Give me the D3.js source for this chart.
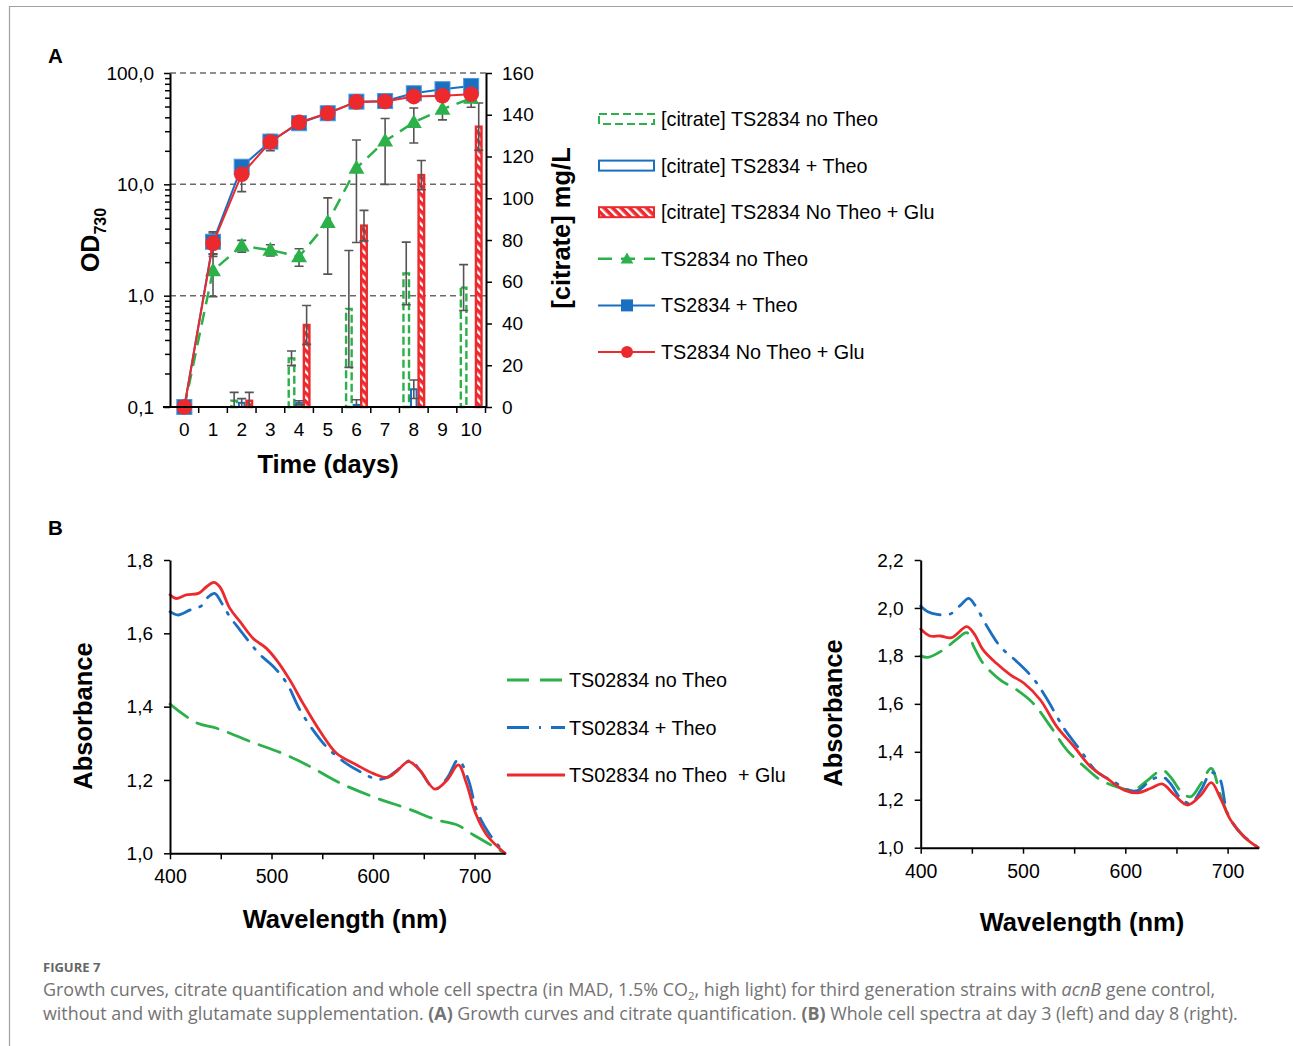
<!DOCTYPE html>
<html>
<head>
<meta charset="utf-8">
<script src="https://cdn.jsdelivr.net/npm/d3@7"></script>
<style>
  body { margin: 0; background: #fff; }
  svg { display: block; }
  text { font-family: "Liberation Sans", Arial, sans-serif; fill: #000; }
  .cap { font-family: "Open Sans", sans-serif; fill: #737373; }
</style>
</head>
<body>
<svg id="fig" width="1293" height="1046"></svg>
<script>
// ---- panel A data: growth (OD730, log) ----
const days = [0, 1, 2, 3, 4, 5, 6, 7, 8, 9, 10]
const odNoTheo = [0.1, 1.68, 2.8, 2.57, 2.24, 4.56, 14, 24.5, 36, 47.3, 59.3]
const odNoTheoErr = [0, 0.7, 0.34, 0.3, 0.4, 3, 11, 14.5, 12.5, 9.4, 10]
const odTheo = [0.1, 3.05, 14.4, 24.2, 35.4, 43.5, 55.3, 56, 65.8, 71.5, 76.5]
const odTheoErr = [0, 0.7, 1, 1, 1.5, 1.5, 2, 2, 2, 2, 2]
const odGlu = [0.1, 2.95, 12.3, 24, 36, 43.5, 55, 55.5, 61.4, 62.5, 64.5]
const odGluErr = [0, 0.7, 3.7, 4, 1.5, 1.5, 2, 2, 2, 2, 2]

// ---- panel A data: citrate (mg/L, bars) ----
const citDays = [2, 4, 6, 8, 10]
const citNoTheo = [3, 23.3, 47, 64, 57.2]
const citNoTheoErr = [4, 3.5, 28, 15, 11]
const citTheo = [2, 2, 1, 8.5, 0]
const citTheoErr = [2, 1, 2.5, 4.4, 0]
const citGlu = [3, 39.3, 86.9, 111.1, 134.3]
const citGluErr = [4, 9.3, 7.3, 7, 11.3]

const odTicks = [0.1, 1, 10, 100]
const citTicks = [0, 20, 40, 60, 80, 100, 120, 140, 160]

// ---- panel B data: whole cell spectra ----
// day 3 (left)
const d3NoTheo = [[400,1.407],[426,1.356],[446,1.341],[479,1.305],[512,1.271],[535,1.241],[568,1.191],[604,1.15],[633,1.123],[663,1.091],[683,1.077],[699,1.05],[719,1.018],[730,1.0]]
const d3Theo = [[400,1.659],[408,1.65],[420,1.664],[431,1.675],[438,1.7],[444,1.709],[451,1.682],[459,1.645],[469,1.609],[479,1.573],[489,1.541],[502,1.509],[515,1.464],[528,1.391],[541,1.336],[554,1.291],[571,1.25],[587,1.223],[604,1.202],[614,1.207],[623,1.225],[637,1.253],[646,1.227],[661,1.175],[673,1.205],[684,1.255],[694,1.2],[702,1.118],[714,1.055],[730,1.0]]
const d3Glu = [[400,1.705],[406,1.695],[416,1.705],[428,1.709],[436,1.727],[443,1.739],[449,1.727],[459,1.668],[469,1.632],[482,1.586],[495,1.559],[505,1.527],[518,1.473],[531,1.409],[548,1.332],[564,1.273],[584,1.241],[600,1.218],[614,1.207],[623,1.223],[635,1.25],[646,1.227],[661,1.175],[673,1.2],[684,1.241],[692,1.191],[701,1.109],[712,1.05],[730,1.0]]
// day 8 (right)
const d8NoTheo = [[400,1.8],[407,1.794],[422,1.825],[435,1.869],[445,1.897],[452,1.838],[461,1.769],[478,1.699],[494,1.658],[510,1.602],[527,1.505],[543,1.407],[560,1.338],[576,1.282],[592,1.254],[608,1.241],[622,1.282],[636,1.324],[644,1.296],[656,1.227],[664,1.213],[674,1.268],[684,1.331],[693,1.22],[703,1.115],[716,1.046],[730,1.0]]
const d8Theo = [[400,2.008],[407,1.984],[416,1.973],[429,1.975],[439,2.012],[447,2.04],[453,2.012],[465,1.922],[478,1.838],[494,1.776],[510,1.706],[523,1.623],[540,1.498],[556,1.407],[572,1.317],[589,1.275],[602,1.241],[612,1.238],[625,1.282],[636,1.296],[644,1.268],[654,1.206],[664,1.185],[674,1.241],[684,1.313],[692,1.289],[700,1.143],[713,1.06],[730,1.0]]
const d8Glu = [[400,1.912],[409,1.883],[419,1.883],[430,1.876],[445,1.922],[452,1.894],[461,1.825],[474,1.769],[488,1.72],[501,1.686],[517,1.616],[533,1.505],[550,1.421],[566,1.338],[582,1.289],[599,1.24],[612,1.229],[625,1.248],[636,1.266],[648,1.22],[661,1.178],[674,1.22],[684,1.271],[693,1.206],[703,1.115],[716,1.046],[730,1.0]]

const wlTicks = [400, 450, 500, 550, 600, 650, 700]
const wlLabels = [400, 500, 600, 700]
const absTicksL = [1.0, 1.2, 1.4, 1.6, 1.8]
const absTicksR = [1.0, 1.2, 1.4, 1.6, 1.8, 2.0, 2.2]

const GREEN = '#2bb04a', BLUE = '#1b6fc0', RED = '#ec2a2e', GREY = '#555'
const comma = d => d3.format('.1f')(d).replace('.', ',')

const svg = d3.select('#fig')

// frame
svg.append('path').attr('d', 'M9.5,1046V6.5H1293').attr('fill', 'none').attr('stroke', '#a0a0a0').attr('stroke-width', 1.2)

const defs = svg.append('defs')
const hatch = defs.append('pattern')
    .attr('id', 'hatch')
    .attr('patternUnits', 'userSpaceOnUse')
    .attr('width', 6).attr('height', 6)
    .attr('patternTransform', 'rotate(-45)')
hatch.append('rect').attr('width', 6).attr('height', 6).attr('fill', RED)
hatch.append('rect').attr('x', 0).attr('width', 2.4).attr('height', 6).attr('fill', '#fff')

// ================= PANEL A =================
const x = d3.scaleBand().domain(days).range([170, 485.5])
const yL = d3.scaleLog().domain([0.1, 100]).range([407, 73])
const yR = d3.scaleLinear().domain([0, 160]).range([407, 73])
const xSub = d3.scaleBand().domain(['noTheo', 'theo', 'glu']).range([3, x.bandwidth() - 3])

const A = svg.append('g')

A.append('text').text('A').attr('x', 48).attr('y', 63).attr('font-size', 20.5).attr('font-weight', 'bold')

// dashed grid at major decades
A.append('g').selectAll('line')
    .data([1, 10, 100])
    .join('line')
    .attr('x1', 170).attr('x2', 486)
    .attr('y1', d => yL(d)).attr('y2', d => yL(d))
    .attr('stroke', '#6a6a6a').attr('stroke-width', 1.5).attr('stroke-dasharray', '6,4')

// bars
const barSeries = [
    { key: 'noTheo', vals: citNoTheo, err: citNoTheoErr },
    { key: 'theo', vals: citTheo, err: citTheoErr },
    { key: 'glu', vals: citGlu, err: citGluErr },
]
const bw = xSub.bandwidth()
barSeries.forEach(s => {
    const g = A.append('g')
    const bars = g.selectAll('rect')
        .data(citDays.map((d, i) => ({ day: d, v: s.vals[i], e: s.err[i] })).filter(d => d.v > 0))
        .join('rect')
        .attr('x', d => x(d.day) + xSub(s.key) + 1)
        .attr('width', bw - 2)
        .attr('y', d => yR(d.v))
        .attr('height', d => yR(0) - yR(d.v))
    if (s.key === 'noTheo') bars.attr('fill', '#fff').attr('stroke', GREEN).attr('stroke-width', 2.4).attr('stroke-dasharray', '8,3.5')
    if (s.key === 'theo') bars.attr('fill', '#fff').attr('stroke', BLUE).attr('stroke-width', 2)
    if (s.key === 'glu') bars.attr('fill', 'url(#hatch)').attr('stroke', RED).attr('stroke-width', 2.4)
})

// bar error bars
const errG = A.append('g').attr('stroke', GREY).attr('stroke-width', 1.6).attr('fill', 'none')
barSeries.forEach(s => {
    citDays.forEach((d, i) => {
        if (!s.err[i]) return
        const cx = x(d) + xSub(s.key) + bw / 2
        const y1 = yR(s.vals[i] + s.err[i]), y2 = yR(Math.max(0, s.vals[i] - s.err[i]))
        errG.append('path').attr('d', `M${cx},${y1}V${y2}M${cx - 4.5},${y1}H${cx + 4.5}M${cx - 4.5},${y2}H${cx + 4.5}`)
    })
})

// line error bars
const lineSeries = [
    { key: 'noTheo', vals: odNoTheo, err: odNoTheoErr },
    { key: 'theo', vals: odTheo, err: odTheoErr },
    { key: 'glu', vals: odGlu, err: odGluErr },
]
lineSeries.forEach(s => {
    days.forEach((d, i) => {
        if (!s.err[i]) return
        const cx = x(d) + x.bandwidth() / 2
        const y1 = yL(s.vals[i] + s.err[i]), y2 = yL(Math.max(0.1, s.vals[i] - s.err[i]))
        errG.append('path').attr('d', `M${cx},${y1}V${y2}M${cx - 4.5},${y1}H${cx + 4.5}M${cx - 4.5},${y2}H${cx + 4.5}`)
    })
})

// growth lines
const cx = d => x(d) + x.bandwidth() / 2
const line = d3.line().x((d, i) => cx(days[i])).y(d => yL(d))

A.append('path').attr('d', line(odNoTheo)).attr('fill', 'none')
    .attr('stroke', GREEN).attr('stroke-width', 2.5).attr('stroke-dasharray', '13,8')
const tri = d3.symbol().type(d3.symbolTriangle).size(110)
A.append('g').selectAll('path').data(odNoTheo).join('path')
    .attr('d', tri).attr('fill', GREEN)
    .attr('transform', (d, i) => `translate(${cx(days[i])},${yL(d) + 1})`)

A.append('path').attr('d', line(odTheo)).attr('fill', 'none').attr('stroke', BLUE).attr('stroke-width', 2)
A.append('g').selectAll('rect').data(odTheo).join('rect')
    .attr('x', (d, i) => cx(days[i]) - 7.5).attr('y', d => yL(d) - 7.5)
    .attr('width', 15).attr('height', 15)
    .attr('fill', BLUE).attr('stroke', '#4c97dc').attr('stroke-width', 1)

A.append('path').attr('d', line(odGlu)).attr('fill', 'none').attr('stroke', RED).attr('stroke-width', 2)
A.append('g').selectAll('circle').data(odGlu).join('circle')
    .attr('cx', (d, i) => cx(days[i])).attr('cy', d => yL(d)).attr('r', 7.8)
    .attr('fill', RED)

// axes A
const minors = []
for (let dec = 0.1; dec < 100; dec *= 10) for (let k = 2; k <= 9; k++) minors.push(+(dec * k).toPrecision(3))

const axL = A.append('g').attr('transform', 'translate(170,0)')
    .call(d3.axisLeft(yL).tickValues(odTicks).tickFormat(comma).tickSize(6).tickSizeOuter(0).tickPadding(10))
axL.append('g').call(d3.axisLeft(yL).tickValues(minors).tickFormat('').tickSize(5).tickSizeOuter(0))
    .select('.domain').remove()
axL.selectAll('.tick line').attr('stroke-width', 1.5)
axL.selectAll('.tick text').attr('font-size', 19).attr('font-family', '"Liberation Sans", Arial, sans-serif')
axL.select('.domain').attr('stroke-width', 2)

const axR = A.append('g').attr('transform', 'translate(486,0)')
    .call(d3.axisRight(yR).tickValues(citTicks).tickSize(6).tickSizeOuter(0).tickPadding(10))
axR.selectAll('.tick line').attr('stroke-width', 1.5)
axR.selectAll('.tick text').attr('font-size', 19).attr('font-family', '"Liberation Sans", Arial, sans-serif')
axR.select('.domain').attr('stroke-width', 2)

const axB = A.append('g').attr('transform', 'translate(0,407)')
    .call(d3.axisBottom(x).tickSize(0).tickPadding(16))
axB.select('.domain').attr('stroke-width', 2).attr('d', 'M163,0H486')
axB.selectAll('.tick text').attr('font-size', 19).attr('font-family', '"Liberation Sans", Arial, sans-serif')
axB.append('g').selectAll('line')
    .data(days.slice(1).map(d => x(d)).concat([x.range()[1]]))
    .join('line')
    .attr('x1', d => d).attr('x2', d => d).attr('y1', 0).attr('y2', 6)
    .attr('stroke', '#000').attr('stroke-width', 1.5)

A.append('text').attr('x', 328).attr('y', 473).attr('text-anchor', 'middle')
    .attr('font-size', 25.5).attr('font-weight', 'bold').text('Time (days)')

const odLab = A.append('text').attr('transform', 'translate(99,240) rotate(-90)')
    .attr('text-anchor', 'middle').attr('font-weight', 'bold')
odLab.append('tspan').attr('font-size', 25).text('OD')
odLab.append('tspan').attr('font-size', 16).attr('dy', 7).text('730')

A.append('text').attr('transform', 'translate(570,228) rotate(-90)')
    .attr('text-anchor', 'middle').attr('font-size', 25.5).attr('font-weight', 'bold').text('[citrate] mg/L')

// legend A
const legA = [
    { t: '[citrate] TS2834 no Theo', type: 'bar', key: 'noTheo' },
    { t: '[citrate] TS2834 + Theo', type: 'bar', key: 'theo' },
    { t: '[citrate] TS2834 No Theo + Glu', type: 'bar', key: 'glu' },
    { t: 'TS2834 no Theo', type: 'line', key: 'noTheo' },
    { t: 'TS2834 + Theo', type: 'line', key: 'theo' },
    { t: 'TS2834 No Theo + Glu', type: 'line', key: 'glu' },
]
const legY = d3.scalePoint().domain(d3.range(legA.length)).range([119, 352])
legA.forEach((d, i) => {
    const g = A.append('g').attr('transform', `translate(0,${legY(i)})`)
    if (d.type === 'bar') {
        const r = g.append('rect').attr('x', 599).attr('y', -5).attr('width', 55).attr('height', 10)
        if (d.key === 'noTheo') r.attr('fill', '#fff').attr('stroke', GREEN).attr('stroke-width', 2).attr('stroke-dasharray', '8,4')
        if (d.key === 'theo') r.attr('fill', '#fff').attr('stroke', BLUE).attr('stroke-width', 2)
        if (d.key === 'glu') r.attr('fill', 'url(#hatch)').attr('stroke', RED).attr('stroke-width', 2)
    } else {
        const l = g.append('line').attr('x1', 598).attr('x2', 655).attr('y1', 0).attr('y2', 0).attr('stroke-width', 2)
        if (d.key === 'noTheo') {
            l.attr('stroke', GREEN).attr('stroke-width', 2.5).attr('stroke-dasharray', '14,9')
            g.append('path').attr('d', d3.symbol().type(d3.symbolTriangle).size(70)).attr('fill', GREEN).attr('transform', 'translate(627,1)')
        }
        if (d.key === 'theo') {
            l.attr('stroke', BLUE)
            g.append('rect').attr('x', 621).attr('y', -6).attr('width', 12).attr('height', 12).attr('fill', BLUE)
        }
        if (d.key === 'glu') {
            l.attr('stroke', RED)
            g.append('circle').attr('cx', 627).attr('r', 6).attr('fill', RED)
        }
    }
    g.append('text').attr('x', 661).attr('y', 7).attr('font-size', 19.8).text(d.t)
})

// ================= PANEL B =================
svg.append('text').text('B').attr('x', 48).attr('y', 535).attr('font-size', 20.5).attr('font-weight', 'bold')

function spectra(opts) {
    const { x0, x1, y0, y1, yDomain, yTicks, series, tickY, titleY, titleX, absX, absY } = opts
    const xs = d3.scaleLinear().domain([400, 730]).range([x0, x1])
    const ys = d3.scaleLinear().domain(yDomain).range([y0, y1])
    const g = svg.append('g')

    const ln = d3.line().x(d => xs(d[0])).y(d => ys(d[1])).curve(d3.curveCatmullRom.alpha(0.5))
    series.forEach(s => {
        g.append('path').attr('d', ln(s.data)).attr('fill', 'none')
            .attr('stroke', s.color).attr('stroke-width', 2.8)
            .attr('stroke-dasharray', s.dash).attr('stroke-linecap', 'round')
    })

    const ay = g.append('g').attr('transform', `translate(${x0},0)`)
        .call(d3.axisLeft(ys).tickValues(yTicks).tickFormat(comma).tickSize(6).tickSizeOuter(0).tickPadding(11))
    ay.select('.domain').attr('stroke-width', 2)
    ay.selectAll('.tick line').attr('stroke-width', 1.5)
    ay.selectAll('.tick text').attr('font-size', 19).attr('font-family', '"Liberation Sans", Arial, sans-serif')

    const ax = g.append('g').attr('transform', `translate(0,${y0})`)
        .call(d3.axisBottom(xs).tickValues(wlTicks).tickFormat(d => wlLabels.includes(d) ? d : '').tickSize(6).tickSizeOuter(0).tickPadding(tickY))
    ax.select('.domain').attr('stroke-width', 2)
    ax.selectAll('.tick line').attr('stroke-width', 1.5)
    ax.selectAll('.tick text').attr('font-size', 19.5).attr('font-family', '"Liberation Sans", Arial, sans-serif')

    g.append('text').attr('x', titleX).attr('y', titleY).attr('text-anchor', 'middle')
        .attr('font-size', 25.5).attr('font-weight', 'bold').text('Wavelength (nm)')
    g.append('text').attr('transform', `translate(${absX},${absY}) rotate(-90)`).attr('text-anchor', 'middle')
        .attr('font-size', 25.5).attr('font-weight', 'bold').text('Absorbance')
}

const dashGreen = '22,11', dashBlue = '22,10,2,10', solid = null

spectra({
    x0: 170, x1: 505, y0: 853.3, y1: 560, yDomain: [1.0, 1.8], yTicks: absTicksL,
    series: [
        { data: d3NoTheo, color: GREEN, dash: dashGreen },
        { data: d3Theo, color: BLUE, dash: dashBlue },
        { data: d3Glu, color: RED, dash: solid },
    ],
    tickY: 10, titleX: 345, titleY: 928, absX: 92, absY: 716
})

spectra({
    x0: 920.7, x1: 1258.3, y0: 847.7, y1: 560, yDomain: [1.0, 2.2], yTicks: absTicksR,
    series: [
        { data: d8NoTheo, color: GREEN, dash: dashGreen },
        { data: d8Theo, color: BLUE, dash: dashBlue },
        { data: d8Glu, color: RED, dash: solid },
    ],
    tickY: 10, titleX: 1082, titleY: 931, absX: 842, absY: 713
})

// legend B
const legB = [
    { t: 'TS02834 no Theo', color: GREEN, dash: dashGreen },
    { t: 'TS02834 + Theo', color: BLUE, dash: dashBlue },
    { t: 'TS02834 no Theo\u00a0\u00a0+ Glu', color: RED, dash: solid },
]
const legBY = d3.scalePoint().domain(d3.range(3)).range([680, 775])
legB.forEach((d, i) => {
    const g = svg.append('g').attr('transform', `translate(0,${legBY(i)})`)
    g.append('line').attr('x1', 507).attr('x2', 565).attr('stroke', d.color).attr('stroke-width', 3)
        .attr('stroke-dasharray', d.dash)
    g.append('text').attr('x', 569).attr('y', 7).attr('font-size', 19.8).text(d.t)
})

// ================= CAPTION =================
svg.append('text').attr('class', 'cap').attr('x', 43).attr('y', 972)
    .attr('font-size', 13).attr('font-weight', 'bold').style('fill', '#666').text('FIGURE 7')

const c1 = svg.append('text').attr('class', 'cap').attr('x', 43).attr('y', 996).attr('font-size', 17.95)
c1.append('tspan').text('Growth curves, citrate quantification and whole cell spectra (in MAD, 1.5% CO')
c1.append('tspan').attr('font-size', 11.5).attr('dy', 4).text('2')
c1.append('tspan').attr('dy', -4).text(', high light) for third generation strains with ')
c1.append('tspan').attr('font-style', 'italic').text('acnB')
c1.append('tspan').text(' gene control,')

const c2 = svg.append('text').attr('class', 'cap').attr('x', 43).attr('y', 1020).attr('font-size', 17.85)
c2.append('tspan').text('without and with glutamate supplementation. ')
c2.append('tspan').attr('font-weight', 'bold').text('(A)')
c2.append('tspan').text(' Growth curves and citrate quantification. ')
c2.append('tspan').attr('font-weight', 'bold').text('(B)')
c2.append('tspan').text(' Whole cell spectra at day 3 (left) and day 8 (right).')
</script>
</body>
</html>
